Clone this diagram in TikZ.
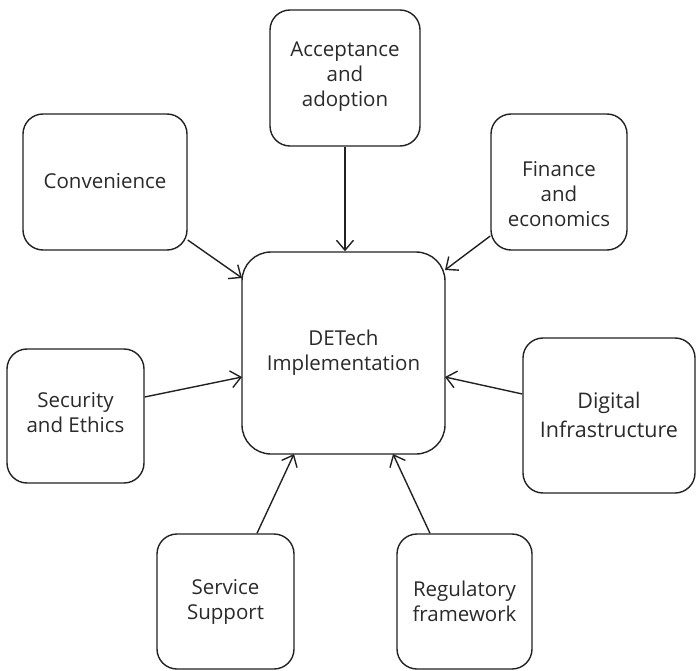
\documentclass[tikz,border=0pt]{standalone}
\usepackage{fontspec}
\setmainfont{Open Sans}
\usetikzlibrary{arrows.meta}
\definecolor{ink}{HTML}{222222}
\definecolor{textink}{HTML}{2A2A2A}
\newcommand{\labelfont}{\fontsize{20.5}{25}\selectfont}
\newcommand{\largelabelfont}{\fontsize{21.5}{29}\selectfont}
\tikzset{
  factor/.style={draw=ink, line width=1.4pt, rounded corners=20pt, inner sep=0pt},
  hub/.style={factor, rounded corners=29pt},
  caption/.style={text=textink, align=center, inner sep=0pt},
  link/.style={draw=ink, line width=1.4pt, -{Straight Barb[length=10pt,width=17pt,line width=1.4pt]}}
}
\begin{document}
\begin{tikzpicture}[x=1pt,y=-1pt]
  \useasboundingbox (0,0) rectangle (696,671);
  % boxes, each given by its corners
  \newcommand{\factorbox}[6]{%
    \node[#6, minimum width=#4-#2, minimum height=#5-#3] (#1) at ({(#2+#4)/2},{(#3+#5)/2}) {};}
  \factorbox{hub}{242}{252}{445}{454}{hub}
  \factorbox{acc}{270}{10}{420}{146}{factor}
  \factorbox{conv}{23}{114}{187}{250}{factor}
  \factorbox{fin}{491}{114}{627}{250}{factor}
  \factorbox{sec}{7}{349}{144}{483}{factor}
  \factorbox{dig}{523}{338}{695}{493}{factor}
  \factorbox{srv}{157}{534}{294}{669}{factor}
  \factorbox{reg}{397}{534}{532}{669}{factor}
  % labels
  \node[caption, font=\labelfont] (hubt) at (hub) {DETech\\Implementation};
  \node[caption, font=\labelfont] (acct) at ([yshift=1pt]acc) {Acceptance\\and\\adoption};
  \node[caption, font=\labelfont] (convt) at ([yshift=1pt]conv) {Convenience};
  \node[caption, font=\labelfont] (fint) at ([yshift=-12pt]fin) {Finance\\and\\economics};
  \node[caption, font=\labelfont] (sect) at ([yshift=3pt]sec) {Security\\and Ethics};
  \node[caption, font=\largelabelfont] (digt) at ([yshift=1pt]dig) {Digital\\Infrastructure};
  \node[caption, font=\labelfont] (srvt) at (srv) {Service\\Support};
  \node[caption, font=\labelfont] (regt) at (reg) {Regulatory\\framework};
  % connectors
  \draw[link] (acc.south -| 345,0) -- (hub.north -| 345,0);
  \draw[link] (conv.east |- 0,240) -- (242,278);
  \draw[link] (fin.west |- 0,236) -- (445,270);
  \draw[link] (sec.east |- 0,397) -- (242,377);
  \draw[link] (dig.west |- 0,394) -- (445,377);
  \draw[link] (srv.north -| 257,0) -- (294,454);
  \draw[link] (reg.north -| 430,0) -- (393,454);
\end{tikzpicture}
\end{document}
